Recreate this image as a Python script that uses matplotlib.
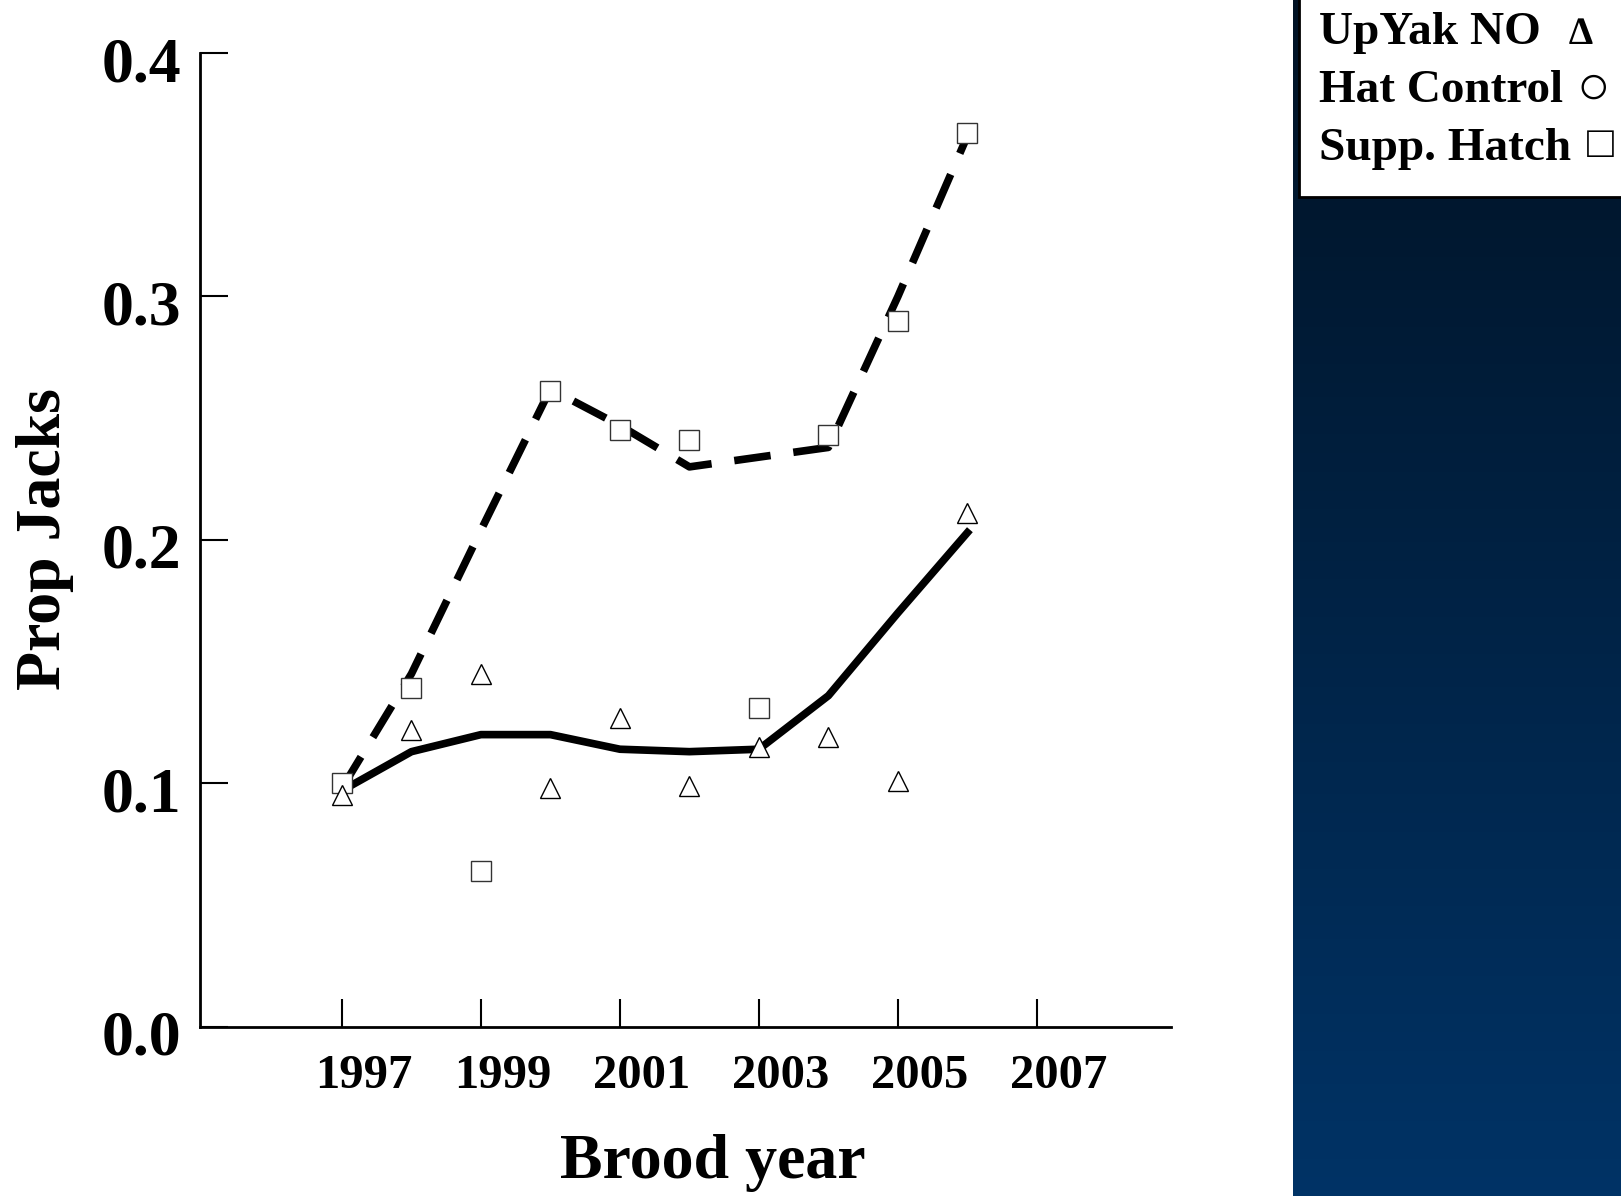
import matplotlib
matplotlib.use("Agg")
import matplotlib.pyplot as plt
import matplotlib.transforms as mtransforms
from matplotlib.patches import Rectangle
import numpy as np

plt.rcParams['font.family'] = ['Liberation Serif', 'DejaVu Serif']
plt.rcParams['font.weight'] = 'bold'

# brood years and observed proportions of jacks
years = [1997, 1998, 1999, 2000, 2001, 2002, 2003, 2004, 2005, 2006]
upyak_no = [0.095, 0.122, 0.145, 0.098, 0.127, 0.099, 0.115, 0.119, 0.101, 0.211]
supp_hatch = [0.100, 0.139, 0.064, 0.261, 0.245, 0.241, 0.131, 0.243, 0.290, 0.367]

# smoothed trends
upyak_smooth = [0.097, 0.113, 0.120, 0.120, 0.114, 0.113, 0.114, 0.136, 0.170, 0.203]
supp_smooth = [0.098, 0.145, 0.204, 0.262, 0.247, 0.230, 0.234, 0.238, 0.300, 0.366]

xticks = [1997, 1999, 2001, 2003, 2005, 2007]
yticks = [0.0, 0.1, 0.2, 0.3, 0.4]
legend_names = ["UpYak NO", "Hat Control", "Supp. Hatch"]
legend_syms = ["\u2206", "\u25cb", "\u25a1"]

W, H = 1621, 1196
fig = plt.figure(figsize=(W / 100, H / 100), dpi=100)
fig.patch.set_facecolor('white')

# dark blue gradient panel on the right
pan = fig.add_axes([1293 / W, 0, 1 - 1293 / W, 1])
top = np.array([1, 18, 36]) / 255
bot = np.array([0, 51, 102]) / 255
t = np.linspace(0, 1, 256)[:, None]
grad = (top * (1 - t) + bot * t)[:, None, :]
pan.imshow(grad, aspect='auto', extent=[0, 1, 0, 1])
pan.set_axis_off()

# white legend box
fig.patches.append(Rectangle((1299 / W, 1 - 197 / H), 1, 0.2, transform=fig.transFigure,
                             facecolor='white', edgecolor='black', linewidth=2, zorder=5))
sym_pos = [(1581, 34, 28, 'bold'), (1593, 90, 40, 'normal'), (1600, 146, 32, 'normal')]
for i, name in enumerate(legend_names):
    fig.text(1319 / W, 1 - (44 + 58 * i) / H, name, fontsize=34, fontweight='bold',
             ha='left', va='baseline', zorder=6)
    sx, sy, fs, fw = sym_pos[i]
    fig.text(sx / W, 1 - sy / H, legend_syms[i], fontsize=fs, fontweight=fw,
             ha='center', va='center', zorder=6)

ax = fig.add_axes([199.5 / W, 1 - 1026.7 / H, (1171 - 199.5) / W, (1026.7 - 53.1) / H])
ax.plot(years, supp_smooth, color='black', lw=5.5, ls=(0, (4.8, 3)), solid_capstyle='butt')
ax.plot(years, upyak_smooth, color='black', lw=5.5)
ax.plot(years, supp_hatch, ls='none', marker='s', ms=14, mfc='white', mec='#333333', mew=1)
ax.plot(years, upyak_no, ls='none', marker='^', ms=14, mfc='white', mec='black', mew=1)

ax.set_xlim(1994.95, 2008.93)
ax.set_ylim(0, 0.4)
ax.set_xticks(xticks)
ax.set_yticks(yticks)
ax.set_xticklabels([str(x) for x in xticks])
ax.set_yticklabels([f"{y:.1f}" for y in yticks])
for s in ['top', 'right']:
    ax.spines[s].set_visible(False)
for s in ['left', 'bottom']:
    ax.spines[s].set_linewidth(2)
ax.tick_params(axis='both', direction='in', length=20, width=1.5)
ax.tick_params(axis='x', labelsize=35, pad=20)
ax.tick_params(axis='y', labelsize=46, pad=13)
offx = mtransforms.ScaledTranslation(22 / 100, 0, fig.dpi_scale_trans)
for lab in ax.get_xticklabels():
    lab.set_fontweight('bold')
    lab.set_transform(lab.get_transform() + offx)
offy = mtransforms.ScaledTranslation(0, -6 / 100, fig.dpi_scale_trans)
for lab in ax.get_yticklabels():
    lab.set_fontweight('bold')
    lab.set_transform(lab.get_transform() + offy)

fig.text(45 / W, 1 - 539 / H, "Prop Jacks", rotation=90, fontsize=46, fontweight='bold',
         ha='center', va='center')
fig.text(713 / W, 1 - 1178 / H, "Brood year", fontsize=46, fontweight='bold',
         ha='center', va='baseline')

fig.savefig("out.png", dpi=100)
